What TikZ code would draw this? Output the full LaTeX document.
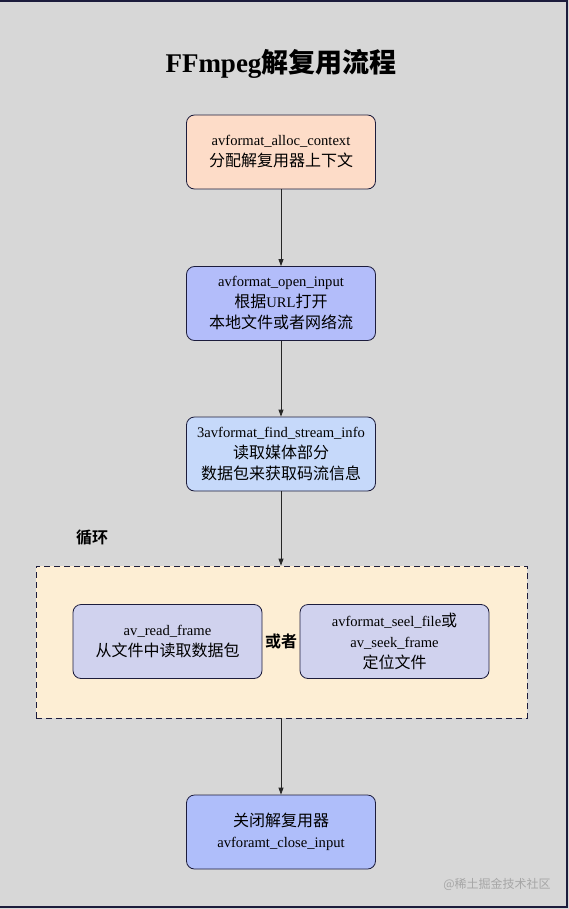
\documentclass[tikz,border=0pt]{standalone}
\usepackage{fontspec}
\setmainfont{Liberation Serif}
\newfontfamily\cjk{Noto Sans CJK SC}
\newfontfamily\cjkb{Noto Sans CJK SC Bold}
\usetikzlibrary{arrows.meta}
\definecolor{bg}{HTML}{D7D7D7}
\definecolor{edgec}{HTML}{1C1C3C}
\definecolor{peach}{HTML}{FDDCC8}
\definecolor{blueA}{HTML}{B3BDFA}
\definecolor{blueB}{HTML}{C6D9FA}
\definecolor{blueC}{HTML}{D0D2EE}
\definecolor{blueD}{HTML}{AFBEFA}
\definecolor{clusterc}{HTML}{FDEED4}
\tikzset{
  stepbox/.style={draw=edgec, line width=0.8pt, rounded corners=8pt, minimum width=189pt, minimum height=74pt, align=center, inner sep=2pt, font=\fontsize{14.6}{21}\selectfont},
  conn/.style={draw=black!85, line width=0.8pt, -{Triangle[length=7pt,width=5pt]}},
}
\newcommand{\zh}[1]{{\cjk\fontsize{16}{21}\selectfont #1}}
\begin{document}
\begin{tikzpicture}[x=1pt,y=-1pt]
\useasboundingbox (0,0) rectangle (569,909);
\fill[bg] (0,0) rectangle (569,909);
\draw[edgec, line width=1.5pt] (0,1) -- (567,1) -- (567,907) -- (0,907);
\node[font=\bfseries\fontsize{27}{30}\selectfont] (title) at (281,63.5) {FFmpeg{\cjkb 解复用流程}};
\node[stepbox, fill=peach] (n1) at (281,152) {avformat\_alloc\_context\\ \zh{分配解复用器上下文}};
\node[stepbox, fill=blueA] (n2) at (281,303.5) {avformat\_open\_input\\ \zh{根据}URL\zh{打开}\\ \zh{本地文件或者网络流}};
\node[stepbox, fill=blueB] (n3) at (281,454) {3avformat\_find\_stream\_info\\ \zh{读取媒体部分}\\ \zh{数据包来获取码流信息}};
\node[draw=edgec, dashed, dash pattern=on 6pt off 4pt, line width=0.8pt, fill=clusterc, minimum width=491pt, minimum height=152pt, inner sep=0pt] (loop) at (281.5,642) {};
\node[font=\fontsize{16}{18}\selectfont] (looplabel) at (92,538) {\cjkb 循环};
\node[stepbox, fill=blueC] (n4) at (167.5,641.5) {av\_read\_frame\\ \zh{从文件中读取数据包}};
\node[stepbox, fill=blueC] (n5) at (394.5,641.5) {avformat\_seel\_file\zh{或}\\ av\_seek\_frame\\ \zh{定位文件}};
\node[font=\fontsize{16}{18}\selectfont] (or) at (281,641) {\cjkb 或者};
\node[stepbox, fill=blueD] (n6) at (281,832) {\zh{关闭解复用器}\\ avforamt\_close\_input};
\node[font=\fontsize{12}{14}\selectfont, text=black!35] (wm) at (497,884) {\cjk @稀土掘金技术社区};
\draw[conn] (n1) -- (n2);
\draw[conn] (n2) -- (n3);
\draw[conn] (n3.south) -- (loop.north -| n3.south);
\draw[conn] (loop.south -| n6.north) -- (n6.north);
\end{tikzpicture}
\end{document}
